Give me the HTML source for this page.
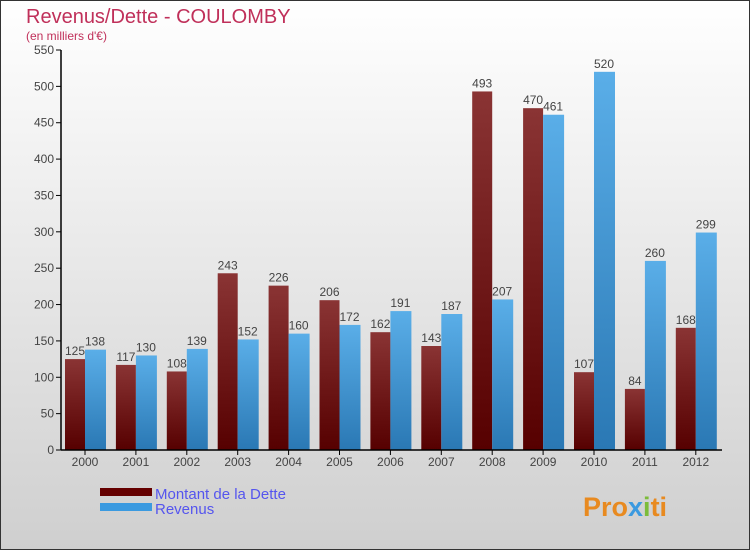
<!DOCTYPE html>
<html><head><meta charset="utf-8"><style>
body{margin:0;width:750px;height:550px;overflow:hidden;font-family:"Liberation Sans",sans-serif}
svg{display:block}
</style></head><body>
<svg id="c" width="750" height="550" xmlns="http://www.w3.org/2000/svg">
<defs>
<linearGradient id="bg" x1="0" y1="0" x2="0" y2="1"><stop offset="0" stop-color="#ffffff"/><stop offset="1" stop-color="#cfcfcf"/></linearGradient>
<linearGradient id="gd" x1="0" y1="0" x2="0" y2="1"><stop offset="0" stop-color="#8a3434"/><stop offset="1" stop-color="#560000"/></linearGradient>
<linearGradient id="gr" x1="0" y1="0" x2="0" y2="1"><stop offset="0" stop-color="#5aaee8"/><stop offset="1" stop-color="#2a78b4"/></linearGradient>
</defs>
<rect x="0.5" y="0.5" width="749" height="549" fill="url(#bg)" stroke="#333"/>
<text x="26" y="23" font-size="20" fill="#c0305a">Revenus/Dette - COULOMBY</text>
<text x="26" y="40" font-size="12" fill="#c0305a">(en milliers d'€)</text>
<g id="plot"></g>
<rect x="100" y="488" width="52" height="8" fill="#650000"/>
<rect x="100" y="503" width="52" height="8" fill="#3b9ae0"/>
<text x="155" y="499" font-size="15" fill="#5555ee">Montant de la Dette</text>
<text x="155" y="514" font-size="15" fill="#5555ee">Revenus</text>
<text x="583" y="516" font-size="27" font-weight="bold" fill="#e88a20">Pro<tspan fill="#3b9ae0">x</tspan><tspan fill="#7cbc3a">i</tspan><tspan fill="#e88a20">ti</tspan></text>
</svg>
<script>
const years=["2000","2001","2002","2003","2004","2005","2006","2007","2008","2009","2010","2011","2012"];
const dette=[125,117,108,243,226,206,162,143,493,470,107,84,168];
const revenus=[138,130,139,152,160,172,191,187,207,461,520,260,299];
const ticks=[0,50,100,150,200,250,300,350,400,450,500,550];
const NS="http://www.w3.org/2000/svg";
const g=document.getElementById('plot');
const y0=450,yTop=50,maxV=550,x0=85,step=50.9,bw=20;
const yS=v=>y0-(v/maxV)*(y0-yTop);
const xS=i=>x0+i*step;
function mk(t,a){const e=document.createElementNS(NS,t);for(const k in a)e.setAttribute(k,a[k]);g.appendChild(e);return e;}
ticks.forEach(t=>{
 const y=yS(t);
 const l=mk('line',{x1:56,x2:61,y1:y,y2:y,stroke:'#000'});
 
 
 const tx=mk('text',{x:54,y:y+4,'font-size':12,'text-anchor':'end',fill:'#444'});
 tx.textContent=t;
 
 
});
years.forEach((yr,i)=>{
 const c=xS(i);
 const b1=mk('rect',{x:c-bw,y:yS(dette[i]),width:bw,height:y0-yS(dette[i]),fill:'url(#gd)'});
 
 
 const b2=mk('rect',{x:c,y:yS(revenus[i]),width:bw+1,height:y0-yS(revenus[i]),fill:'url(#gr)'});
 
 
 const t1=mk('text',{x:c-bw/2,y:yS(dette[i])-4,'font-size':12,'text-anchor':'middle',fill:'#444'});
 t1.textContent=dette[i];
 
 
 const t2=mk('text',{x:c+bw/2,y:yS(revenus[i])-4,'font-size':12,'text-anchor':'middle',fill:'#444'});
 t2.textContent=revenus[i];
 
 
 const tk=mk('line',{x1:c,x2:c,y1:450,y2:455,stroke:'#000'});
 
 
 const xl=mk('text',{x:c,y:466,'font-size':12,'text-anchor':'middle',fill:'#444'});
 xl.textContent=yr;
 
 
});
const ax=mk('line',{x1:61,x2:61,y1:50,y2:450,stroke:'#000','stroke-width':1.5});


const bx=mk('line',{x1:61,x2:722,y1:450,y2:450,stroke:'#000','stroke-width':1.5});


</script>
</body></html>
